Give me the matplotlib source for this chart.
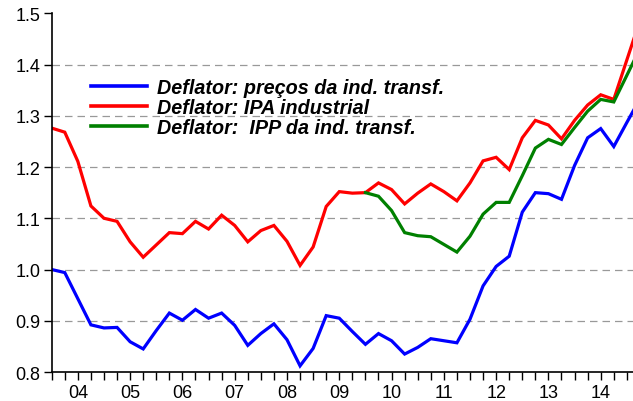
import numpy as np
import matplotlib
matplotlib.use("Agg")
import matplotlib.pyplot as plt

# Quarterly data, 2004Q1 .. 2015Q2 (last point partly outside the visible frame)
quarters = [f"{y}Q{q}" for y in range(2004, 2016) for q in range(1, 5)][:46]
year_labels = ["04", "05", "06", "07", "08", "09", "10", "11", "12", "13", "14"]

blue = [1.000, 0.994, 0.943, 0.892, 0.886, 0.887, 0.859, 0.845,
        0.881, 0.915, 0.901, 0.922, 0.905, 0.915, 0.891, 0.852,
        0.875, 0.894, 0.863, 0.812, 0.846, 0.910, 0.905, 0.879,
        0.854, 0.875, 0.861, 0.835, 0.848, 0.865, 0.861, 0.857,
        0.903, 0.968, 1.006, 1.026, 1.112, 1.150, 1.148, 1.137,
        1.203, 1.257, 1.275, 1.240, 1.287, 1.333]

red = [1.276, 1.268, 1.211, 1.124, 1.100, 1.094, 1.054, 1.024,
       1.048, 1.072, 1.070, 1.094, 1.079, 1.106, 1.086, 1.054,
       1.076, 1.086, 1.055, 1.008, 1.044, 1.123, 1.152, 1.149,
       1.150, 1.169, 1.156, 1.128, 1.149, 1.167, 1.152, 1.134,
       1.169, 1.212, 1.219, 1.195, 1.257, 1.291, 1.282, 1.255,
       1.291, 1.321, 1.341, 1.332, 1.409, 1.486]

green = [np.nan] * 24 + [1.150, 1.143, 1.115, 1.072, 1.066, 1.064, 1.049, 1.034,
                         1.065, 1.108, 1.131, 1.131, 1.183, 1.237, 1.254, 1.244,
                         1.277, 1.309, 1.332, 1.327, 1.379, 1.431]

labels = ["Deflator: preços da ind. transf.",
          "Deflator: IPA industrial",
          "Deflator:  IPP da ind. transf."]

plt.rcParams['font.family'] = ['Liberation Sans', 'DejaVu Sans']

W, H = 633, 402
fig = plt.figure(figsize=(W / 100, H / 100), dpi=100)
ax = fig.add_axes([51.7 / W, (H - 373) / H, 1 - 51.7 / W, (373 - 14.3) / H])

x = np.arange(len(quarters))
lw = 2.3
ax.plot(x, blue, color="#0000FF", lw=lw, label=labels[0], solid_joinstyle="miter")
ax.plot(x, red, color="#FF0000", lw=lw, label=labels[1], solid_joinstyle="miter")
ax.plot(x, green, color="#008000", lw=lw, label=labels[2], solid_joinstyle="miter")

ax.set_xlim(0, 44.47)
ax.set_ylim(0.8, 1.5)

for v in [0.9, 1.0, 1.1, 1.2, 1.3, 1.4]:
    ax.axhline(v, color="#999999", lw=0.9, dashes=(6, 4), zorder=0)

ax.set_yticks([0.8, 0.9, 1.0, 1.1, 1.2, 1.3, 1.4, 1.5])
ax.set_yticklabels(["0.8", "0.9", "1.0", "1.1", "1.2", "1.3", "1.4", "1.5"])
ax.set_xticks(np.arange(0, 45))
ax.set_xticklabels([year_labels[i // 4] if i % 4 == 2 else "" for i in range(45)])

ax.tick_params(axis="both", labelsize=13, colors="black", width=1.0, length=6,
               direction="out")
ax.tick_params(axis="x", pad=3)
ax.tick_params(axis="y", pad=2)

for s in ["top", "right"]:
    ax.spines[s].set_visible(False)
for s in ["left", "bottom"]:
    ax.spines[s].set_linewidth(1.2)
    ax.spines[s].set_color("black")

fs = 14.2
leg = ax.legend(loc="upper left", bbox_to_anchor=(90.7 / W, (H - 79.0) / H),
                bbox_transform=fig.transFigure, frameon=False,
                prop={"weight": "bold", "style": "italic", "size": fs},
                handlelength=2.85, handletextpad=0.52, labelspacing=0.04,
                borderpad=0, borderaxespad=0)
for l in leg.get_lines():
    l.set_linewidth(2.6)

fig.savefig("out.png", dpi=100)
